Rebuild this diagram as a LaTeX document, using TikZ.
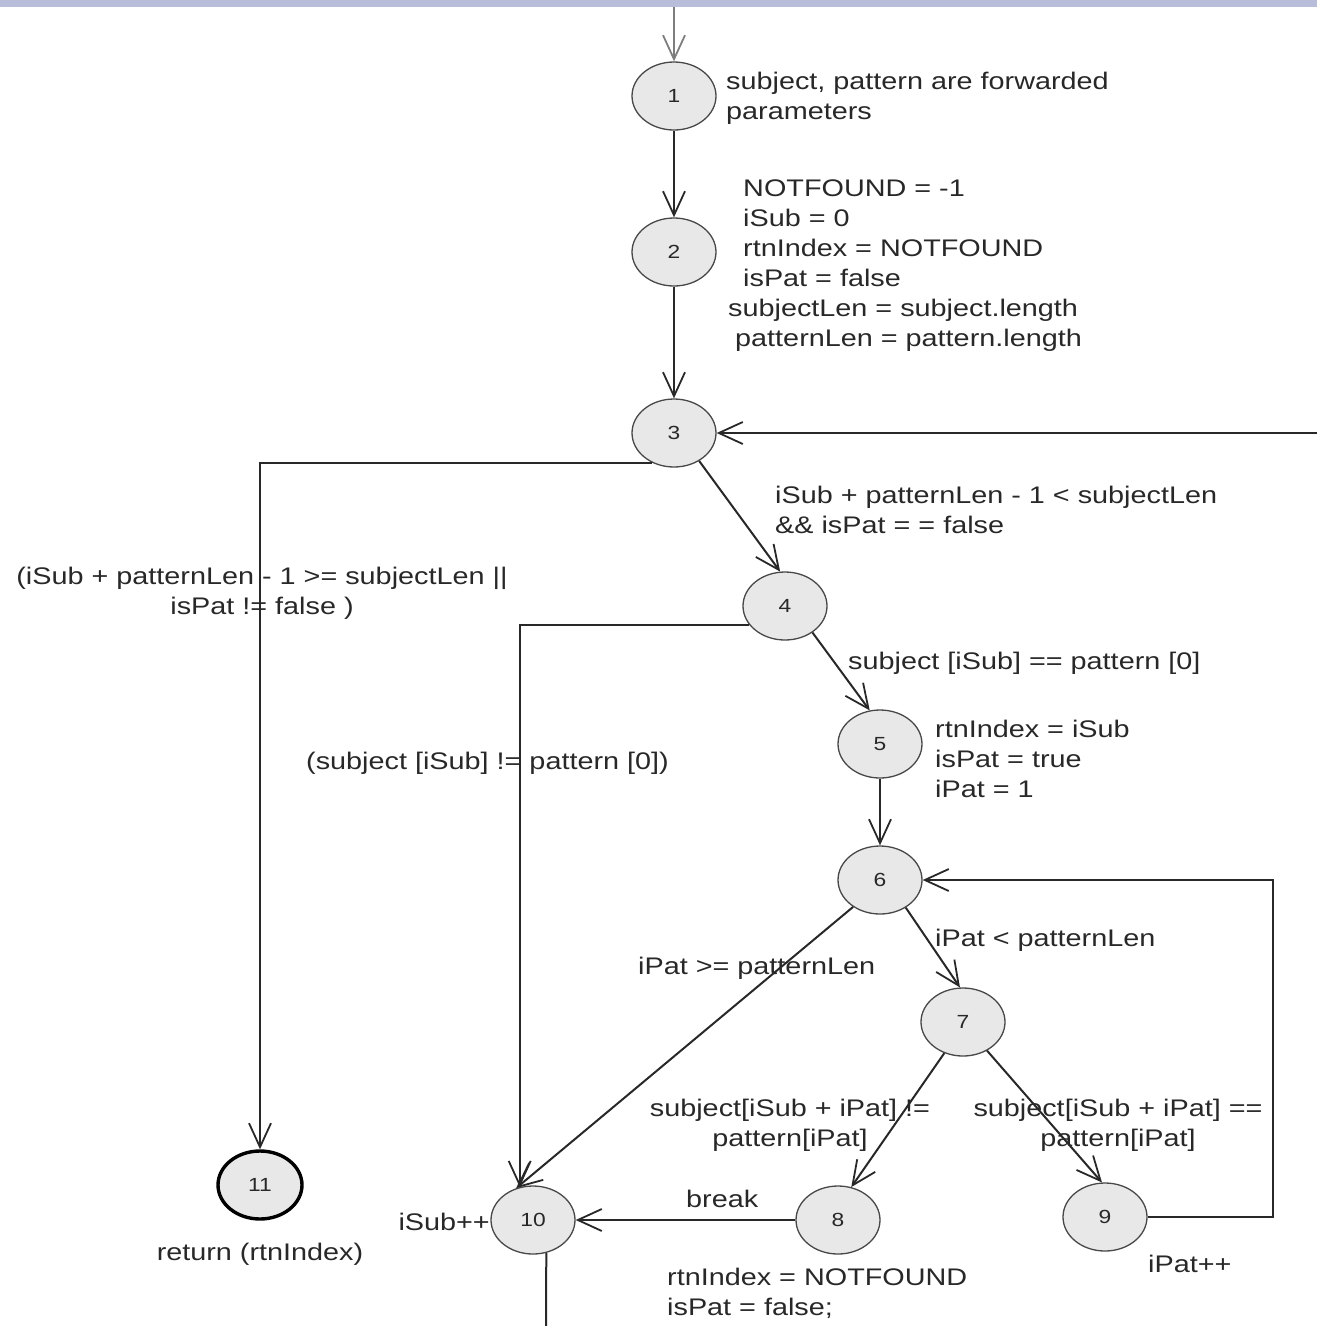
\documentclass[tikz,border=0pt]{standalone}
\usepackage{fontspec}
\setmainfont{Liberation Sans}[FakeStretch=1.2]
\usetikzlibrary{shapes.geometric,arrows.meta}
\definecolor{band}{RGB}{184,190,218}
\definecolor{ink}{RGB}{40,40,40}
\definecolor{nodefill}{RGB}{232,232,232}
\begin{document}
\begin{tikzpicture}[x=1pt,y=-1pt,
  state/.style={ellipse,draw=ink!85,line width=1.3pt,fill=nodefill,
    minimum width=84pt,minimum height=68pt,inner sep=0pt,
    font=\fontsize{19}{22}\selectfont,text=ink},
  final/.style={state,line width=3.4pt,draw=black},
  flow/.style={draw=ink,line width=2pt,
    -{Straight Barb[length=24pt,width=22pt,line width=1.8pt]}},
  plain/.style={draw=ink,line width=2pt},
  lbl/.style={inner sep=0pt,text=ink,font=\fontsize{24}{30}\selectfont}]
\useasboundingbox (0,0) rectangle (1317,1326);
\fill[band] (0,0) rectangle (1317,7);

% states
\node[state] (n1) at (674,96) {1};
\node[state] (n2) at (674,252) {2};
\node[state] (n3) at (674,433) {3};
\node[state] (n4) at (785,606) {4};
\node[state] (n5) at (880,744) {5};
\node[state] (n6) at (880,880) {6};
\node[state] (n7) at (963,1022) {7};
\node[state] (n8) at (838,1220) {8};
\node[state] (n9) at (1105,1217) {9};
\node[state] (n10) at (533,1220) {10};
\node[final] (n11) at (260,1185) {11};

% loose ends
\coordinate (entry) at (674,7);
\coordinate (loopin) at (1320,433);
\coordinate (exit) at (546,1330);
\coordinate (ret) at (1273,1217);

% connectors
\draw[flow,draw=ink!60,line width=1.3pt] (entry) -- (n1);
\draw[flow] (n1) -- (n2);
\draw[flow] (n2) -- (n3);
\draw[flow] (loopin) -- (n3.east);
\draw[flow] (n3.233) -| (n11);
\draw[flow] (n3.312) -- (n4.98);
\draw[flow] (n4.208) -| (n10.112);
\draw[flow] (n4.316) -- (n5.107);
\draw[flow] (n5) -- (n6);
\draw[flow] (n6.225) -- (n10.118);
\draw[flow] (n6.313) -- (n7.95);
\draw[flow] (n7.239) -- (n8.68);
\draw[flow] (n7.310) -- (n9.95);
\draw[flow] (n8.west) -- (n10.east);
\draw[flow] (n9.east) -- (ret) |- (n6.east);
\draw[plain] (n10.292) -- (exit);

% annotations (multi-line blocks are placed by the baseline of their last line)
\node[lbl,anchor=base west,align=left] (t1) at (726,119)
  {subject, pattern are forwarded\\parameters};
\node[lbl,anchor=base west,align=left] (t2) at (728,346)
  {\hspace*{15pt}NOTFOUND = -1\\
   \hspace*{15pt}iSub = 0\\
   \hspace*{15pt}rtnIndex = NOTFOUND\\
   \hspace*{15pt}isPat = false\\
   subjectLen = subject.length\\
   \hspace*{7pt}patternLen = pattern.length};
\node[lbl,anchor=base west,align=left] (t3) at (775,533)
  {iSub + patternLen - 1 < subjectLen\\\&\& isPat = = false};
\node[lbl,anchor=base,align=center] (t4) at (262,614)
  {(iSub + patternLen - 1 >= subjectLen ||\\isPat != false )};
\node[lbl,anchor=base west] (t5) at (848,669) {subject [iSub] == pattern [0]};
\node[lbl,anchor=base west] (t6) at (306,769) {(subject [iSub] != pattern [0])};
\node[lbl,anchor=base west,align=left] (t7) at (935,797)
  {rtnIndex = iSub\\isPat = true\\iPat = 1};
\node[lbl,anchor=base west] (t8) at (935,946) {iPat < patternLen};
\node[lbl,anchor=base west] (t9) at (638,974) {iPat >= patternLen};
\node[lbl,anchor=base,align=center] (t10) at (790,1146)
  {subject[iSub + iPat] !=\\pattern[iPat]};
\node[lbl,anchor=base,align=center] (t11) at (1118,1146)
  {subject[iSub + iPat] ==\\pattern[iPat]};
\node[lbl,anchor=base east] (t12) at (490,1230) {iSub++};
\node[lbl,anchor=base] (t13) at (260,1260) {return (rtnIndex)};
\node[lbl,anchor=base west] (t14) at (686,1207) {break};
\node[lbl,anchor=base west,align=left] (t15) at (667,1315)
  {rtnIndex = NOTFOUND\\isPat = false;};
\node[lbl,anchor=base west] (t16) at (1148,1272) {iPat++};
\end{tikzpicture}
\end{document}
